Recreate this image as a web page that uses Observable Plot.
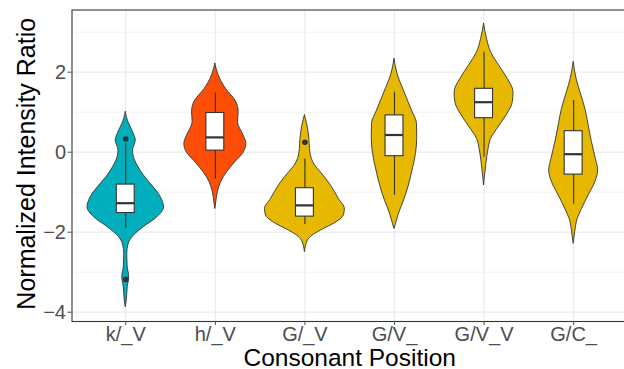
<!DOCTYPE html>
<html>
<head>
<meta charset="utf-8">
<script src="https://cdn.jsdelivr.net/npm/d3@7"></script>
<script src="https://cdn.jsdelivr.net/npm/@observablehq/plot@0.6"></script>
<style>
  html, body { margin: 0; padding: 0; background: #ffffff; }
  #chart svg { display: block; }
</style>
</head>
<body>
<div id="chart"></div>
<script>
// ---------- data ----------
const categories = ["k/_V", "h/_V", "G/_V", "G/V_", "G/V_V", "G/C_"];
const fillColors = ["#00AFBB", "#FC4E07", "#E7B800", "#E7B800", "#E7B800", "#E7B800"];

// violin outlines: value levels and half-widths (in category units)
const kV_levels = [1.0, 0.71, 0.585, 0.46, 0.29, 0.04, -0.21, -0.375, -0.58, -0.79, -1.125, -1.375, -1.625, -1.875, -2.125, -2.29, -2.54, -2.875, -3.125, -3.375, -3.71, -3.875];
const kV_halfWidths = [0, 0.037, 0.064, 0.089, 0.112, 0.081, 0.104, 0.142, 0.201, 0.279, 0.391, 0.427, 0.354, 0.201, 0.075, 0.033, 0.017, 0.022, 0.039, 0.022, 0.011, 0];

const hV_levels = [2.21, 1.92, 1.58, 1.25, 1.0, 0.75, 0.42, 0.21, 0, -0.25, -0.5, -0.75, -1.0, -1.25, -1.42];
const hV_halfWidths = [0, 0.037, 0.119, 0.235, 0.26, 0.253, 0.315, 0.346, 0.32, 0.223, 0.131, 0.064, 0.028, 0.011, 0];

const GV_levels = [0.92, 0.67, 0.33, 0.08, -0.17, -0.33, -0.5, -0.83, -1.17, -1.42, -1.58, -1.75, -1.92, -2.08, -2.21, -2.5];
const GV_halfWidths = [0, 0.028, 0.05, 0.056, 0.078, 0.112, 0.176, 0.29, 0.379, 0.446, 0.435, 0.354, 0.212, 0.089, 0.033, 0];

const GVpre_levels = [2.33, 1.96, 1.5, 1.04, 0.71, 0.38, -0.04, -0.46, -0.87, -1.21, -1.54, -1.79, -1.92];
const GVpre_halfWidths = [0, 0.033, 0.112, 0.195, 0.251, 0.254, 0.24, 0.201, 0.156, 0.106, 0.05, 0.017, 0];

const GVV_levels = [3.21, 2.83, 2.5, 2.17, 1.83, 1.5, 1.25, 0.92, 0.58, 0.33, 0.08, -0.25, -0.58, -0.83];
const GVV_halfWidths = [0, 0.033, 0.078, 0.167, 0.265, 0.329, 0.321, 0.251, 0.148, 0.078, 0.05, 0.028, 0.011, 0];

const GC_levels = [2.25, 1.83, 1.5, 1.08, 0.67, 0.25, -0.17, -0.46, -0.75, -1.08, -1.42, -1.67, -2.0, -2.29];
const GC_halfWidths = [0, 0.033, 0.075, 0.131, 0.167, 0.204, 0.248, 0.273, 0.242, 0.167, 0.093, 0.045, 0.017, 0];

// boxplot statistics
const boxLow    = [-1.9, -0.67, -1.81, -1.08, -0.125, -1.3];
const boxQ1     = [-1.52, 0.04, -1.61, -0.1, 0.85, -0.56];
const boxMedian = [-1.275, 0.37, -1.33, 0.43, 1.25, -0.05];
const boxQ3     = [-0.81, 0.98, -0.9, 0.92, 1.585, 0.525];
const boxHigh   = [0.21, 1.48, -0.17, 1.5, 2.5, 1.29];

// outliers
const outlierCategory = ["k/_V", "k/_V", "G/_V"];
const outlierValue = [0.33, -3.18, 0.25];

// ticks
const xTickValues = [1, 2, 3, 4, 5, 6];
const yMajorTicks = [-4, -2, 0, 2];
const yMinorTicks = [-3, -1, 1, 3];

// ---------- tables built from the arrays ----------
const violinSets = [
  [kV_levels, kV_halfWidths],
  [hV_levels, hV_halfWidths],
  [GV_levels, GV_halfWidths],
  [GVpre_levels, GVpre_halfWidths],
  [GVV_levels, GVV_halfWidths],
  [GC_levels, GC_halfWidths]
];
const violinRows = violinSets.flatMap(([levels, hws], i) =>
  levels.map((v, j) => ({category: categories[i], pos: i + 1, value: v, hw: hws[j]}))
);
const boxRows = categories.map((c, i) => ({
  category: c, pos: i + 1,
  low: boxLow[i], q1: boxQ1[i], median: boxMedian[i], q3: boxQ3[i], high: boxHigh[i]
}));
const outlierRows = outlierCategory.map((c, i) => ({pos: categories.indexOf(c) + 1, value: outlierValue[i]}));

const boxHalf = 0.1;
const fmt = d => (d < 0 ? "\u2212" + Math.abs(d) : String(d));

const chart = Plot.plot({
  width: 624,
  height: 369,
  marginLeft: 71.5,
  marginRight: -2.9,
  marginTop: 9.5,
  marginBottom: 48,
  style: {fontFamily: "'Liberation Sans', Arial, Helvetica, sans-serif", background: "#ffffff", overflow: "visible"},
  x: {domain: [0.4, 6.6]},
  y: {domain: [-4.2325, 3.555]},
  color: {domain: categories, range: fillColors},
  marks: [
    Plot.gridY({ticks: yMinorTicks, stroke: "#ebebeb", strokeOpacity: 1, strokeWidth: 0.6}),
    Plot.gridY({ticks: yMajorTicks, stroke: "#ebebeb", strokeOpacity: 1, strokeWidth: 1.2}),
    Plot.gridX({ticks: xTickValues, stroke: "#ebebeb", strokeOpacity: 1, strokeWidth: 1.2}),
    Plot.areaX(violinRows, {
      y: "value",
      x1: d => d.pos - d.hw,
      x2: d => d.pos + d.hw,
      z: "category",
      fill: "category",
      stroke: "#333333",
      strokeWidth: 0.9,
      curve: "monotone-y"
    }),
    Plot.ruleX(boxRows, {x: "pos", y1: "low", y2: "q1", stroke: "#333333", strokeWidth: 1.1}),
    Plot.ruleX(boxRows, {x: "pos", y1: "q3", y2: "high", stroke: "#333333", strokeWidth: 1.1}),
    Plot.rect(boxRows, {
      x1: d => d.pos - boxHalf, x2: d => d.pos + boxHalf,
      y1: "q1", y2: "q3",
      fill: "white", stroke: "#333333", strokeWidth: 1.1
    }),
    Plot.ruleY(boxRows, {
      y: "median", x1: d => d.pos - boxHalf, x2: d => d.pos + boxHalf,
      stroke: "#333333", strokeWidth: 2.2
    }),
    Plot.dot(outlierRows, {x: "pos", y: "value", r: 2.8, fill: "#333333", stroke: null}),
    Plot.frame({stroke: "#333333", strokeWidth: 1.1}),
    Plot.axisX({ticks: xTickValues, tickFormat: d => categories[d - 1], tickSize: 4, tickPadding: 1, fontSize: 20, color: "#4d4d4d", label: null}),
    Plot.axisY({ticks: yMajorTicks, tickFormat: fmt, tickSize: 4, tickPadding: 2, fontSize: 20, color: "#4d4d4d", label: null}),
    Plot.text(["Consonant Position"], {frameAnchor: "bottom", textAnchor: "middle", lineAnchor: "bottom", dy: 44, fontSize: 24.5, fill: "black"}),
    Plot.text(["Normalized Intensity Ratio"], {frameAnchor: "left", textAnchor: "middle", lineAnchor: "bottom", dx: -37, dy: -2, rotate: -90, fontSize: 25, fill: "black"})
  ]
});
document.getElementById("chart").appendChild(chart);
</script>
</body>
</html>
